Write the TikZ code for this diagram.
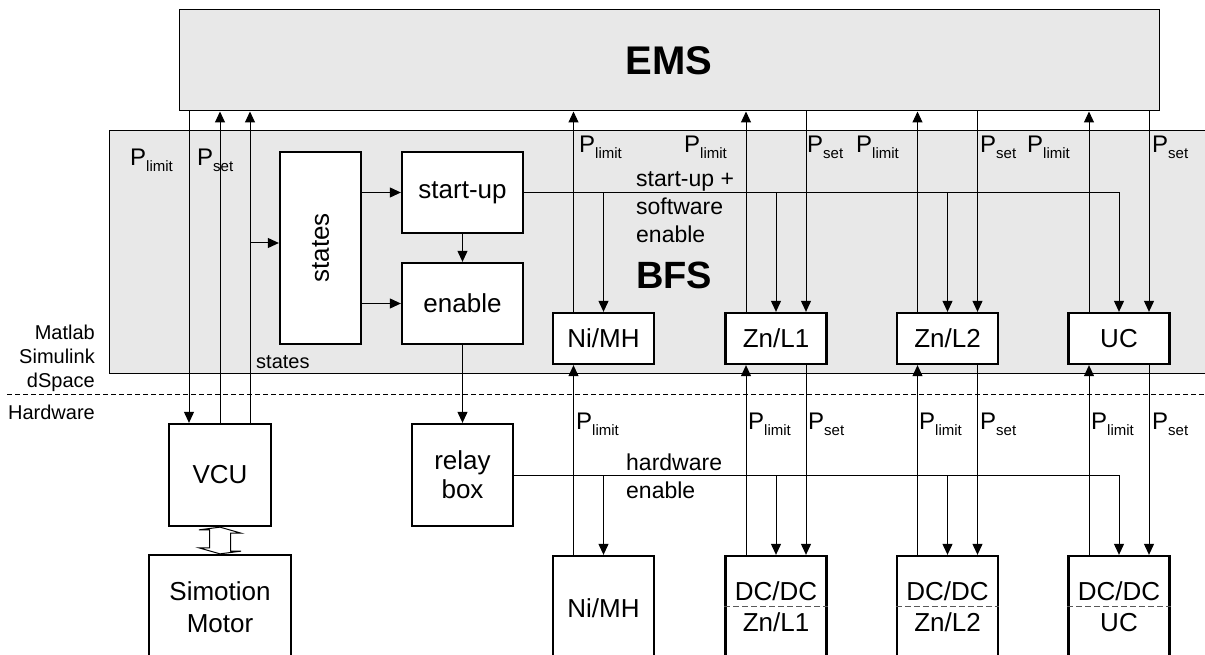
\documentclass[tikz,border=0pt]{standalone}
\usepackage{fontspec}
\setmainfont{Liberation Sans}
\usepackage{tikz}
\usetikzlibrary{arrows.meta, calc}

\definecolor{panelgray}{RGB}{232,232,232}
\newcommand{\Psub}[1]{P\raisebox{-6pt}{\fontsize{15}{15}\selectfont #1}}

\tikzset{
  blockbox/.style={draw, line width=2.3pt, fill=white, inner sep=0pt, align=center,
    font=\fontsize{26}{29}\selectfont},
  topbox/.style={blockbox, minimum width=101pt, minimum height=51pt},
  lowbox/.style={blockbox, minimum width=101pt, minimum height=104pt},
  sig/.style={line width=1pt, -{Triangle[length=11pt,width=10pt]}},
  wire/.style={line width=1pt},
  plabel/.style={anchor=base west, inner sep=0pt, font=\fontsize{24}{24}\selectfont},
  note/.style={anchor=base west, inner sep=0pt, align=left, font=\fontsize{23}{28}\selectfont},
  side/.style={anchor=base east, inner sep=0pt, font=\fontsize{20}{24}\selectfont},
}

\begin{document}
\begin{tikzpicture}[x=1pt, y=-1pt]
    \useasboundingbox (0,0) rectangle (1205,655);
    \clip (0,0) rectangle (1205,655);

    % Simulink panel and EMS
    \fill[panelgray] (109,131) rectangle (1215,373);
    \draw[wire] (1215,131) -- (109,131) -- (109,373) -- (1215,373);
    \node[draw, line width=1pt, fill=panelgray, minimum width=980pt, minimum height=101pt,
      font=\fontsize{40}{40}\selectfont\bfseries] (ems) at (669,60.5) {EMS};

    % Software / hardware border
    \draw[wire, dash pattern=on 5pt off 3pt] (7,394) -- (1205,394);
    \node[side] (matlab) at (95,339) {Matlab};
    \node[side] (simulink) at (95,363) {Simulink};
    \node[side] (dspace) at (95,387) {dSpace};
    \node[side] (hardware) at (95,419) {Hardware};

    % BFS blocks
    \node[blockbox, minimum width=81pt, minimum height=192pt] (states) at (320.5,248) {\rotatebox{90}{states}};
    \node[blockbox, minimum width=121pt, minimum height=81pt] (startup) at (462.5,192.5) {start-up};
    \node[blockbox, minimum width=121pt, minimum height=81pt] (enable) at (462.5,303.5) {enable};
    \node[topbox] (nimhT) at (603.5,338.5) {Ni/MH};
    \node[topbox] (zn1T) at (776,338.5) {Zn/L1};
    \node[topbox] (zn2T) at (947.5,338.5) {Zn/L2};
    \node[topbox] (ucT) at (1119,338.5) {UC};
    \node[note] (swtext) at (636,243) {start-up +\\software\\enable};
    \node[anchor=base west, inner sep=0pt, font=\fontsize{38}{38}\selectfont\bfseries] (bfs) at (636,288) {BFS};
    \node[anchor=base west, inner sep=0pt, font=\fontsize{20}{20}\selectfont] (stlabel) at (256,368) {states};

    % Hardware blocks
    \node[blockbox, minimum width=102pt, minimum height=102pt] (vcu) at (220,475) {VCU};
    \node[blockbox, minimum width=142pt, minimum height=104pt, font=\fontsize{26}{32}\selectfont] (motor) at (220,607) {Simotion\\Motor};
    \node[blockbox, minimum width=101pt, minimum height=102pt] (relay) at (462.5,475) {relay\\box};
    \node[lowbox] (nimhB) at (603.5,608) {Ni/MH};
    \node[lowbox] (zn1B) at (776,608) {};
    \node[lowbox] (zn2B) at (947.5,608) {};
    \node[lowbox] (ucB) at (1119,608) {};
    \foreach \b in {zn1B,zn2B,ucB} {
      \node[anchor=base, inner sep=0pt, font=\fontsize{26}{26}\selectfont] (\b-dc) at ([yshift=8pt]\b.center) {DC/DC};
      \draw[line width=1pt, gray!70!black, dash pattern=on 6pt off 3pt]
        ([yshift=2pt]\b.west) -- ([yshift=2pt]\b.east);
    }
    \node[anchor=base, inner sep=0pt, font=\fontsize{26}{26}\selectfont] (zn1lbl) at ([yshift=-23pt]zn1B.center) {Zn/L1};
    \node[anchor=base, inner sep=0pt, font=\fontsize{26}{26}\selectfont] (zn2lbl) at ([yshift=-23pt]zn2B.center) {Zn/L2};
    \node[anchor=base, inner sep=0pt, font=\fontsize{26}{26}\selectfont] (uclbl) at ([yshift=-23pt]ucB.center) {UC};
    \node[note] (hwtext) at (626,498) {hardware\\enable};

    % VCU <-> motor bus
    \draw[wire] (vcu.south) -- ++(21,6) -- ++(-10.5,0) -- ++(0,18) -- ++(10.5,0)
      -- (motor.north) -- ++(-21,-6) -- ++(10.5,0) -- ++(0,-18) -- ++(-10.5,0) -- cycle;

    % VCU signals
    \coordinate (vcuL) at ([xshift=-31pt]vcu.north);
    \coordinate (vcuR) at ([xshift=30pt]vcu.north);
    \coordinate (stin) at ([yshift=5pt]states.west);
    \draw[sig] (vcuL |- ems.south) -- (vcuL);
    \draw[sig] (vcu.north) -- (vcu.north |- ems.south);
    \draw[sig] (vcuR) -- (vcuR |- ems.south);
    \draw[sig] (vcuR |- stin) -- (stin);

    % state machine
    \draw[sig] (states.east |- startup.west) -- (startup.west);
    \draw[sig] (states.east |- enable.west) -- (enable.west);
    \draw[sig] (startup) -- (enable);
    \draw[sig] (enable) -- (relay);

    % software enable and hardware enable
    \draw[sig] (startup.east) -| (ucT.north);
    \foreach \b in {nimhT,zn1T,zn2T}
      \draw[sig] (startup.east -| \b.north) -- (\b.north);
    \draw[sig] (relay.east) -| (ucB.north);
    \foreach \b in {nimhB,zn1B,zn2B}
      \draw[sig] (relay.east -| \b.north) -- (\b.north);

    % P_limit lines
    \foreach \t/\h in {nimhT/nimhB,zn1T/zn1B,zn2T/zn2B,ucT/ucB} {
      \coordinate (lt) at ([xshift=-30pt]\t.north);
      \draw[sig] (lt) -- (lt |- ems.south);
      \draw[sig] ([xshift=-30pt]\h.north) -- ([xshift=-30pt]\t.south);
    }
    % P_set lines
    \foreach \t/\h in {zn1T/zn1B,zn2T/zn2B,ucT/ucB} {
      \coordinate (rt) at ([xshift=30pt]\t.north);
      \draw[sig] (rt |- ems.south) -- (rt);
      \draw[sig] ([xshift=30pt]\t.south) -- ([xshift=30pt]\h.north);
    }

    % labels
    \foreach \x/\y/\s in {130/166/limit, 197/166/set,
        579/153/limit, 684/153/limit, 807/153/set, 856/153/limit, 980/153/set, 1027/153/limit, 1152/153/set,
        576/429/limit, 748/429/limit, 808/429/set, 919/429/limit, 980/429/set, 1091/429/limit, 1152/429/set}
      \node[plabel] (p\x-\y) at (\x,\y) {\Psub{\s}};
\end{tikzpicture}
\end{document}
